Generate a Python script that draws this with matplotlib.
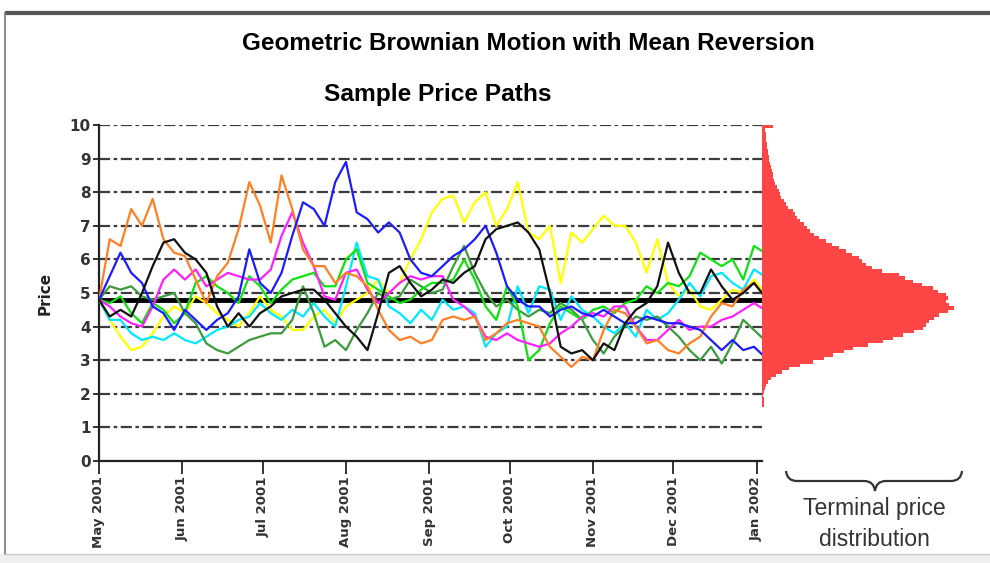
import numpy as np
import pandas as pd
import matplotlib
matplotlib.use('Agg')
import matplotlib.pyplot as plt
from matplotlib.path import Path
from matplotlib.patches import PathPatch, Rectangle

# sample price paths, one value every 4 days starting 1 May 2001
dates = pd.date_range('2001-05-01', periods=63, freq='4D')

orange = [4.8, 6.6, 6.4, 7.5, 7.0, 7.8, 6.6, 6.2, 6.1, 5.4,
          4.7, 5.5, 5.9, 6.9, 8.3, 7.6, 6.5, 8.5, 7.5, 6.3,
          5.8, 5.8, 5.3, 5.6, 5.5, 5.2, 4.5, 3.9, 3.6, 3.7,
          3.5, 3.6, 4.2, 4.3, 4.2, 4.3, 3.6, 3.8, 4.1, 4.2,
          4.1, 4.0, 3.4, 3.1, 2.8, 3.1, 3.0, 3.9, 4.5, 4.4,
          4.0, 3.5, 3.6, 3.3, 3.2, 3.5, 3.7, 4.3, 4.7, 4.6,
          5.1, 5.3, 4.9]
blue = [4.8, 5.5, 6.2, 5.6, 5.3, 4.6, 4.4, 3.9, 4.5, 4.2,
        3.9, 4.2, 4.4, 4.9, 6.3, 5.3, 5.0, 5.6, 6.7, 7.7,
        7.5, 7.0, 8.3, 8.9, 7.4, 7.2, 6.8, 7.1, 6.8, 6.0,
        5.6, 5.5, 5.8, 6.1, 6.3, 6.6, 7.0, 6.2, 5.2, 4.8,
        4.6, 4.6, 4.3, 4.5, 4.6, 4.4, 4.3, 4.5, 4.3, 4.1,
        4.1, 4.3, 4.2, 4.1, 4.1, 4.0, 3.9, 3.6, 3.3, 3.6,
        3.3, 3.4, 3.1]
black = [4.8, 4.3, 4.5, 4.3, 5.0, 5.8, 6.5, 6.6, 6.2, 6.0,
         5.6, 4.6, 4.0, 4.4, 4.0, 4.4, 4.6, 4.9, 5.0, 5.1,
         5.1, 4.8, 4.4, 4.0, 3.7, 3.3, 4.4, 5.6, 5.8, 5.3,
         4.9, 5.1, 5.4, 5.3, 5.6, 5.8, 6.6, 6.9, 7.0, 7.1,
         6.8, 6.3, 5.0, 3.4, 3.2, 3.3, 3.0, 3.5, 3.3, 4.1,
         4.5, 4.7, 5.2, 6.5, 5.6, 5.0, 5.0, 5.7, 5.2, 4.8,
         5.0, 5.3, 4.9]
magenta = [4.8, 4.6, 4.3, 4.1, 4.0, 4.6, 5.4, 5.7, 5.4, 5.7,
           5.2, 5.4, 5.6, 5.5, 5.4, 5.4, 5.7, 6.7, 7.4, 6.5,
           5.8, 4.9, 4.8, 5.6, 5.7, 5.1, 4.7, 5.0, 5.3, 5.5,
           5.4, 5.5, 5.5, 4.8, 4.6, 4.3, 3.7, 3.6, 3.8, 3.6,
           3.5, 3.4, 3.5, 3.8, 4.0, 4.3, 4.4, 4.3, 4.6, 4.6,
           4.0, 3.6, 3.6, 3.9, 4.2, 3.9, 4.0, 4.0, 4.2, 4.3,
           4.5, 4.7, 4.5]
lime = [4.8, 4.7, 4.9, 4.4, 4.1, 4.7, 4.5, 4.1, 4.4, 5.3,
        5.5, 5.2, 5.0, 4.7, 5.5, 5.2, 4.7, 5.1, 5.4, 5.5,
        5.6, 5.2, 5.2, 6.0, 6.3, 5.3, 5.1, 4.9, 4.7, 4.8,
        5.1, 5.3, 5.3, 5.4, 6.0, 5.4, 4.6, 4.2, 5.2, 4.6,
        3.0, 3.3, 4.1, 4.6, 4.4, 4.2, 4.5, 4.6, 4.4, 4.7,
        4.8, 5.2, 5.0, 5.3, 5.2, 5.5, 6.2, 6.0, 5.8, 6.0,
        5.4, 6.4, 6.2]
darkgreen = [4.8, 5.2, 5.1, 5.2, 4.9, 4.8, 4.9, 5.0, 4.4, 4.1,
             3.5, 3.3, 3.2, 3.4, 3.6, 3.7, 3.8, 3.8, 4.2, 5.2,
             4.4, 3.4, 3.6, 3.3, 3.9, 4.4, 5.0, 4.8, 4.9, 5.4,
             5.2, 5.0, 5.1, 5.8, 6.4, 5.6, 5.0, 4.6, 4.8, 4.5,
             4.3, 4.5, 4.4, 4.7, 4.5, 4.2, 3.6, 3.2, 3.7, 4.0,
             4.3, 4.2, 4.3, 4.0, 3.7, 3.3, 3.0, 3.4, 2.9, 3.5,
             4.2, 3.9, 3.6]
cyan = [4.8, 4.2, 4.2, 3.8, 3.6, 3.7, 3.6, 3.8, 3.6, 3.5,
        3.7, 3.9, 4.0, 4.2, 4.3, 4.7, 4.4, 4.2, 4.5, 4.3,
        4.7, 4.3, 4.0, 5.2, 6.5, 5.5, 5.4, 4.6, 4.4, 4.1,
        4.5, 4.2, 4.8, 4.5, 4.6, 4.4, 3.4, 3.8, 4.0, 5.2,
        4.4, 5.2, 5.1, 4.2, 4.9, 4.5, 4.3, 4.0, 3.8, 4.1,
        3.7, 4.5, 4.2, 4.4, 4.8, 5.3, 4.9, 5.5, 5.6, 5.3,
        5.1, 5.7, 5.5]
yellow = [4.8, 4.2, 3.7, 3.3, 3.4, 3.8, 4.3, 4.6, 4.4, 4.9,
          4.7, 4.4, 4.2, 4.0, 4.4, 4.9, 4.5, 4.3, 3.9, 3.9,
          4.3, 4.5, 4.1, 4.6, 4.8, 5.0, 5.4, 5.0, 5.3, 6.0,
          6.6, 7.4, 7.8, 7.9, 7.1, 7.7, 8.0, 7.0, 7.5, 8.3,
          6.8, 6.6, 7.0, 5.3, 6.8, 6.5, 6.9, 7.3, 7.0, 7.0,
          6.5, 5.6, 6.6, 5.3, 4.9, 5.1, 4.6, 4.5, 4.8, 5.1,
          5.0, 5.4, 5.0]

mean_level = 4.8

month_ticks = pd.date_range('2001-05-01', '2002-01-01', freq='MS')
month_labels = ['May 2001', 'Jun 2001', 'Jul 2001', 'Aug 2001', 'Sep 2001',
                'Oct 2001', 'Nov 2001', 'Dec 2001', 'Jan 2002']

# terminal price distribution, bins 0.1 wide starting at 1.5
hist_start = 1.5
hist_bin = 0.1
hist_counts = [0, 2, 2, 2, 1, 2, 3, 4, 6, 9,
               14, 20, 27, 38, 51, 62, 71, 82, 91, 106,
               121, 131, 141, 152, 161, 164, 167, 172, 177, 186,
               192, 187, 184, 186, 184, 176, 171, 160, 151, 143,
               137, 120, 110, 104, 100, 97, 90, 84, 77, 70,
               64, 57, 52, 48, 45, 42, 38, 35, 33, 31,
               26, 24, 22, 19, 18, 17, 15, 13, 12, 11,
               11, 10, 9, 8, 7, 7, 6, 6, 5, 5,
               4, 4, 4, 3, 11]

W, H = 990, 563
fig = plt.figure(figsize=(W / 100, H / 100), dpi=100)
fig.patch.set_facecolor('white')

narrow = ['Liberation Sans', 'DejaVu Sans']

# main panel
ax = fig.add_axes([99 / W, 1 - 461 / H, (762 - 99) / W, (461 - 125) / H])
for y in range(1, 11):
    ax.axhline(y, color='#3c3c3c', lw=1.6, ls=(0, (5, 1.6, 1.6, 1.6)), zorder=1)

paths = [(yellow, '#ffff00'), (cyan, '#00e8ff'), (darkgreen, '#3c9b3c'),
         (lime, '#10e010'), (magenta, '#ff20ff'), (orange, '#ff7f24'),
         (blue, '#1c1cff'), (black, '#111111')]
for vals, col in paths:
    ax.plot(dates, vals, color=col, lw=1.6, zorder=3)
ax.axhline(mean_level, color='black', lw=3.5, zorder=2.5)

ax.set_ylim(0, 10)
ax.set_xlim(dates[0], pd.Timestamp('2002-01-03'))
ax.set_yticks(range(0, 11))
ax.set_yticklabels([str(i) for i in range(0, 11)], fontweight='bold',
                   color='#333333', fontsize=11)
ax.set_xticks(month_ticks)
ax.set_xticklabels(month_labels, rotation=90, fontweight='bold',
                   color='#333333', fontsize=9.5)
ax.tick_params(axis='y', length=4, width=1.4, pad=2, color='#333333')
ax.tick_params(axis='x', length=9, width=1.4, pad=2, color='#333333')
for s in ['top', 'right']:
    ax.spines[s].set_visible(False)
for s in ['left', 'bottom']:
    ax.spines[s].set_linewidth(1.6)
    ax.spines[s].set_color('#222222')
ax.set_ylabel('Price', fontweight='bold', fontsize=11, color='#222222', labelpad=12)

# terminal price histogram on the right
axh = fig.add_axes([762 / W, 1 - 461 / H, 223 / W, (461 - 125) / H])
edges = hist_start + hist_bin * np.arange(len(hist_counts))
axh.barh(edges, hist_counts, height=hist_bin, align='edge',
         color='#ff4646', linewidth=0)
axh.set_ylim(0, 10)
axh.set_xlim(0, 223)
axh.axis('off')

# titles, brace and frame in pixel coordinates
ov = fig.add_axes([0, 0, 1, 1], zorder=-1)
ov.set_xlim(0, W)
ov.set_ylim(H, 0)
ov.axis('off')
t1 = ov.text(528, 44, 'Geometric Brownian Motion with Mean Reversion', ha='center',
             va='center', fontsize=20, family=narrow, fontweight='bold')
t2 = ov.text(438, 94, 'Sample Price Paths', ha='center', va='center',
             fontsize=20, family=narrow, fontweight='bold')
t3 = ov.text(874, 524, 'Terminal price\ndistribution', ha='center', va='center',
             fontsize=16, family=narrow, color='#333333', linespacing=1.4)

# shrink the titles so their widths match the original condensed lettering
renderer = fig.canvas.get_renderer()
for t, target in [(t1, 572), (t2, 227), (t3, 144)]:
    w = t.get_window_extent(renderer).width
    t.set_fontsize(t.get_fontsize() * target / w)

brace = Path([(786, 471), (787, 481), (797, 481), (864, 481), (874, 481),
              (875, 491), (876, 481), (886, 481), (951, 481), (961, 481),
              (962, 471)],
             [Path.MOVETO, Path.CURVE3, Path.CURVE3, Path.LINETO, Path.CURVE3,
              Path.CURVE3, Path.CURVE3, Path.CURVE3, Path.LINETO, Path.CURVE3,
              Path.CURVE3])
ov.add_patch(PathPatch(brace, facecolor='none', edgecolor='#333333', lw=1.6))

ov.add_patch(Rectangle((0, 554), W, 9, facecolor='#f0f0f0', edgecolor='none'))
ov.plot([5, W], [13, 13], color='#555555', lw=3, solid_capstyle='butt')
ov.plot([5, 5], [13, 554], color='#777777', lw=1.2)
ov.plot([5, W], [554, 554], color='#cccccc', lw=1)

plt.savefig('out.png', dpi=100)
